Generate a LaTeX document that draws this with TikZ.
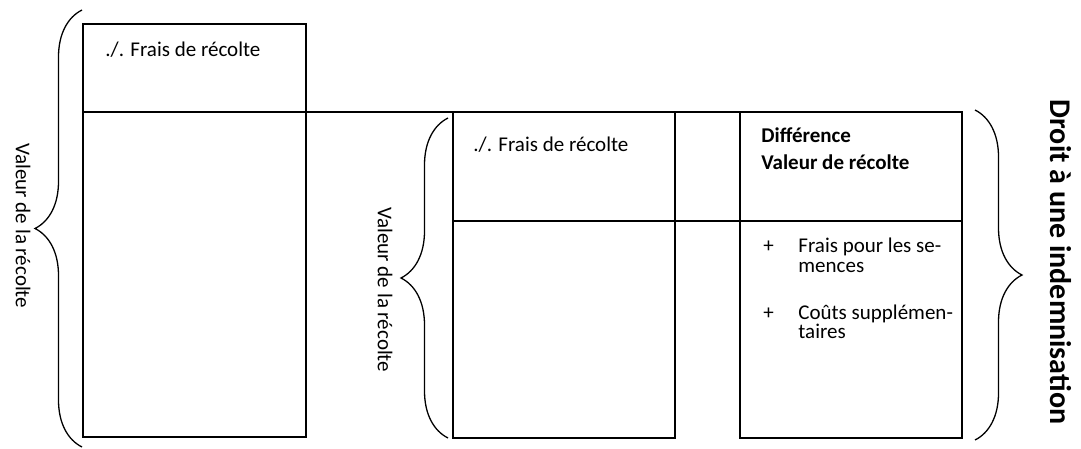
\documentclass[tikz,border=0pt]{standalone}
\usepackage{fontspec}
\setmainfont{Carlito}
\usetikzlibrary{decorations.pathreplacing}

\begin{document}
\begin{tikzpicture}[x=0.5pt,y=-0.5pt,
        kasten/.style={line width=1pt},
        klammer/.style={decorate,decoration={brace,amplitude=23.5pt},line width=0.65pt},
        txt/.style={font=\fontsize{10.5}{12}\selectfont,inner sep=0pt,anchor=base west},
        txtb/.style={font=\fontsize{10.5}{12}\selectfont\bfseries,inner sep=0pt,anchor=base west},
        seite/.style={font=\fontsize{10.5}{12}\selectfont,inner sep=0pt,rotate=-90}]

                \useasboundingbox (0,0) rectangle (1081,449);

                \draw[kasten] (83,24) rectangle (306,437);
                \draw[kasten] (453,112) rectangle (675,438);
                \draw[kasten] (740,112) rectangle (962,438);

                \draw[kasten] (83,112) -- (962,112);
                \draw[kasten] (453,221) -- (962,221);

                \draw[klammer] (82,447) -- (82,10);
                \draw[klammer] (448,438) -- (448,118);
                \draw[klammer] (975,110) -- (975,440);

                \node[txt] (frais1) at (105,56.7) {./. Frais de récolte};
                \node[txt] (frais2) at (473,151.7) {./. Frais de récolte};

                \node[txtb] (diff) at (761,142.7) {Différence};
                \node[txtb] (valeur) at (761,169.3) {Valeur de récolte};

                \node[txt] (plus1) at (763,252.7) {+};
                \node[txt] (sem1) at (798,252.7) {Frais pour les se-};
                \node[txt] (sem2) at (798,272) {mences};
                \node[txt] (plus2) at (763,319) {+};
                \node[txt] (cout1) at (798,319) {Coûts supplémen-};
                \node[txt] (cout2) at (798,338.7) {taires};

                \node[seite] (wert1) at (23,226) {Valeur de la récolte};
                \node[seite] (wert2) at (385,290) {Valeur de la récolte};
                \node[seite,font=\fontsize{15}{18}\selectfont\bfseries] (droit) at (1061,262) {Droit à une indemnisation};

            \end{tikzpicture}
\end{document}
